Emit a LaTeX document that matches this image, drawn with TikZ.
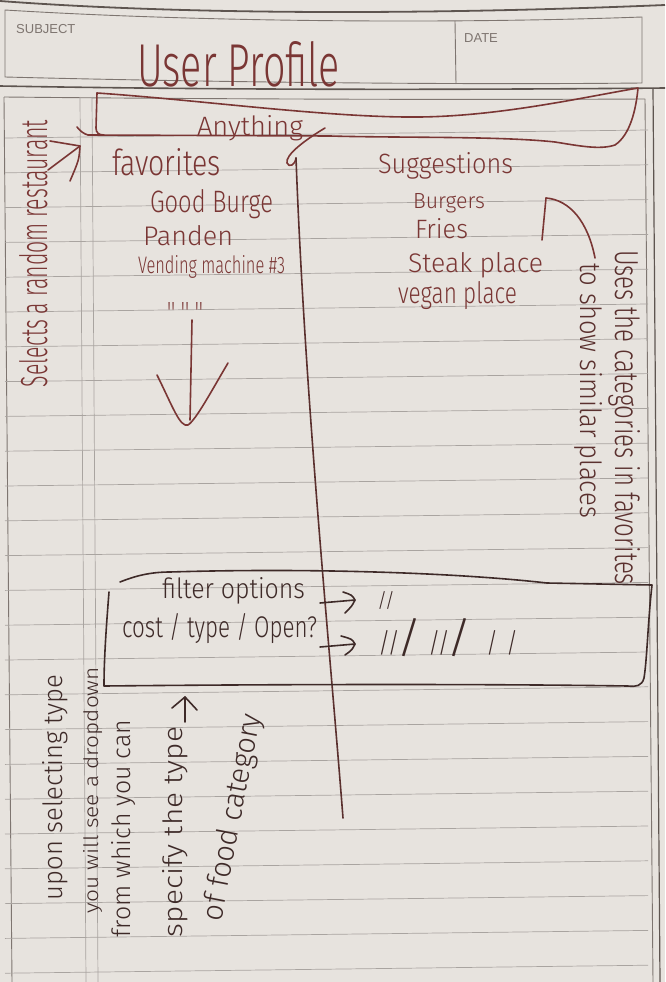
\documentclass[tikz,border=0pt]{standalone}
\usepackage{fontspec}
\usepackage{graphicx}
\newfontfamily\hand{Fira Sans Light}
\newfontfamily\printed{Liberation Sans}
\definecolor{paper}{HTML}{E7E3DE}
\definecolor{rulec}{HTML}{A9A4A0}
\definecolor{printc}{HTML}{7E7570}
\definecolor{printdark}{HTML}{5E5550}
\definecolor{inkR}{HTML}{7A3634}
\definecolor{inkD}{HTML}{3E2A28}
\definecolor{inkM}{HTML}{5A302E}
% handwritten word, scaled to a given width and height (in pt)
\newcommand\hw[3]{\resizebox{#1pt}{#2pt}{#3}}

\begin{document}
\begin{tikzpicture}[x=1pt,y=-1pt,
  ink/.style={draw=inkR, line width=1.6pt, line cap=round, line join=round},
  inkd/.style={draw=inkD, line width=1.6pt, line cap=round, line join=round},
  inkm/.style={draw=inkM, line width=1.6pt, line cap=round, line join=round},
  txt/.style={inner sep=0pt, outer sep=0pt, text=inkR, font=\hand},
  txtd/.style={txt, text=inkD},
  txtm/.style={txt, text=inkM},
  rule/.style={draw=rulec, line width=0.7pt},
  printline/.style={draw=printc, line width=0.9pt},
  label/.style={inner sep=0pt, text=printc, font=\printed\fontsize{13}{13}\selectfont}]
\useasboundingbox (0,0) rectangle (665,982);
\fill[paper] (0,0) rectangle (665,982);

% ---------- printed notebook page ----------
\draw[draw=printdark, line width=1.8pt] (0,1) .. controls (200,16) and (450,14) .. (665,5);
\draw[printline] (5,10) .. controls (200,22) and (450,24) .. (642,17) -- (642,83)
  .. controls (450,85) and (200,82) .. (5,77) -- cycle;
\draw[printline] (455,21) -- (456,84);
\node[label, anchor=west] (subject) at (16,29) {SUBJECT};
\node[label, anchor=west] (date) at (464,38) {DATE};
\draw[draw=printdark, line width=1.6pt] (0,86) .. controls (220,90) and (450,90) .. (665,88);
\draw[printline] (4,97) .. controls (200,99) and (450,100) .. (645,99);
% page borders and margin
\draw[printline] (4,97) -- (12,982);
\draw[printline] (645,99) -- (653,982);
\draw[draw=printdark, line width=1.2pt] (653,88) -- (660,982);
\draw[rule] (80,97) -- (86,982);
\draw[rule] (92,97) -- (98,982);
% ruled lines
\foreach \k in {0,...,24}
  \draw[rule] (5,{138+34.8*\k}) -- (648,{130+34.8*\k});

% ---------- title ----------
\node[txt, anchor=base west] (title) at (137,87) {\hw{203}{45}{User Profile}};

% ---------- top bar ----------
\draw[ink] (97,93) .. controls (200,100) and (330,118) .. (420,117)
  .. controls (500,116) and (580,98) .. (638,88)
  .. controls (636,110) and (630,135) .. (615,145)
  .. controls (600,150) and (580,146) .. (555,142)
  .. controls (500,136) and (400,138) .. (330,136) -- (88,135)
  .. controls (84,134) and (80,131) .. (77,127);
\draw[ink] (97,93) -- (96,128) .. controls (96,133) and (99,135) .. (104,135);
\node[txt, anchor=base west] (anything) at (197,135) {\hw{106}{20}{Anything}};

% ---------- column divider ----------
\coordinate (gtail) at (325,128);
\coordinate (dtop) at (296,158);
\coordinate (dbot) at (343,818);
\draw[ink] (gtail) .. controls (305,140) and (285,155) .. (287,163)
  .. controls (289,168) and (295,165) .. (dtop);
\draw[inkm] (dtop) .. controls (305,400) and (330,650) .. (dbot);

% ---------- favorites column ----------
\node[txt, anchor=base west] (fav) at (112,175) {\hw{109}{27}{favorites}};
\node[txt, anchor=base west] (fav1) at (150,212) {\hw{123}{23}{Good Burge}};
\node[txt, anchor=base west] (fav2) at (143,245) {\hw{90}{20}{Panden}};
\node[txt, anchor=base west] (fav3) at (138,273) {\hw{147}{18}{Vending machine \#3}};
\node[txt, anchor=base west] (ditto) at (167,323) {\hw{36}{21}{'' '' ''}};
\coordinate (dnA) at (192,320);
\coordinate (dnB) at (190,420);
\coordinate (dnL) at (157,375);
\coordinate (dnT) at (188,425);
\coordinate (dnR) at (228,363);
\draw[ink] (dnA) -- (dnB);
\draw[ink] (dnL) .. controls (172,405) and (180,428) .. (dnT)
  .. controls (196,420) and (212,390) .. (dnR);

% left note with its arrow
\node[txt, rotate=90, anchor=base west] (random) at (47,387) {\hw{267}{28}{Selects a random restaurant}};
\coordinate (tlTail) at (48,170);
\coordinate (tlTip) at (80,146);
\coordinate (tlH1) at (50,141);
\coordinate (tlH2) at (70,181);
\draw[ink] (tlTail) -- (tlTip);
\draw[ink] (tlH1) -- (tlTip) .. controls (79,160) .. (tlH2);

% ---------- suggestions column ----------
\node[txt, anchor=base west] (sug) at (378,173) {\hw{135}{21}{Suggestions}};
\node[txt, anchor=base west] (sug1) at (413,208) {\hw{72}{15}{Burgers}};
\node[txt, anchor=base west] (sug2) at (415,238) {\hw{53}{20}{Fries}};
\node[txt, anchor=base west] (sug3) at (408,272) {\hw{135}{20}{Steak place}};
\node[txt, anchor=base west] (sug4) at (398,303) {\hw{119}{22}{vegan place}};

% right note with its curved arrow
\node[txtm, rotate=-90, anchor=base west] (uses1) at (615,250) {\hw{335}{25}{Uses the categories in favorites}};
\node[txtm, rotate=-90, anchor=base west] (uses2) at (580,263) {\hw{255}{22}{to show similar places}};
\coordinate (raTail) at (595,258);
\coordinate (raTip) at (546,198);
\coordinate (raHead) at (542,240);
\draw[ink] (raTail) .. controls (588,222) and (570,200) .. (raTip);
\draw[ink] (raTip) -- (raHead);

% ---------- filter options box ----------
\draw[inkd] (120,582) .. controls (135,576) and (150,572) .. (170,572)
  .. controls (300,568) and (450,572) .. (547,583) -- (652,585)
  .. controls (648,620) and (647,660) .. (644,678)
  .. controls (642,686) and (636,687) .. (628,686)
  .. controls (500,684) and (300,684) .. (104,686)
  .. controls (104,660) and (106,630) .. (109,592);
\node[txtd, anchor=base west] (filt) at (162,598) {\hw{143}{21}{filter options}};
\node[txtd, anchor=base west] (cost) at (122,637) {\hw{195}{24}{cost / type / Open?}};
\coordinate (f1s) at (320,603);
\coordinate (f1t) at (355,600);
\coordinate (f2s) at (320,647);
\coordinate (f2t) at (355,644);
\draw[inkd] (f1s) -- (f1t);
\draw[inkd] (343,592) .. controls (352,595) .. (f1t) .. controls (352,606) .. (345,613);
\draw[inkd] (f2s) -- (f2t);
\draw[inkd] (341,636) .. controls (352,639) .. (f2t) .. controls (352,650) .. (345,655);
\node[txtd, anchor=base west] (same1) at (377,607) {\hw{18}{16}{//}};
\node[txtd, anchor=base west] (same2) at (378,652)
  {\hw{22}{22}{//}\hspace{-4pt}\hw{26}{34}{/}\hspace{6pt}\hw{22}{22}{//}\hspace{-4pt}\hw{26}{34}{/}\hspace{14pt}\hw{12}{22}{/}\hspace{8pt}\hw{12}{22}{/}};

% ---------- bottom note ----------
\node[txtd, rotate=90, anchor=base west] (note1) at (62,900) {\hw{225}{20}{upon selecting type}};
\node[txtd, rotate=90, anchor=base west] (note2) at (98,913) {\hw{246}{15}{you will see a dropdown}};
\node[txtd, rotate=90, anchor=base west] (note3) at (130,937) {\hw{217}{19}{from which you can}};
\node[txtd, rotate=90, anchor=base west] (note4) at (182,937) {\hw{210}{20}{specify the type}};
\node[txtd, rotate=79, anchor=base west] (note5) at (221,922) {\hw{210}{22}{of food category}};
\coordinate (upA) at (185,722);
\coordinate (upB) at (185,697);
\draw[inkd] (upA) -- (upB);
\draw[inkd] (172,708) -- (upB) -- (197,710);
\end{tikzpicture}
\end{document}
